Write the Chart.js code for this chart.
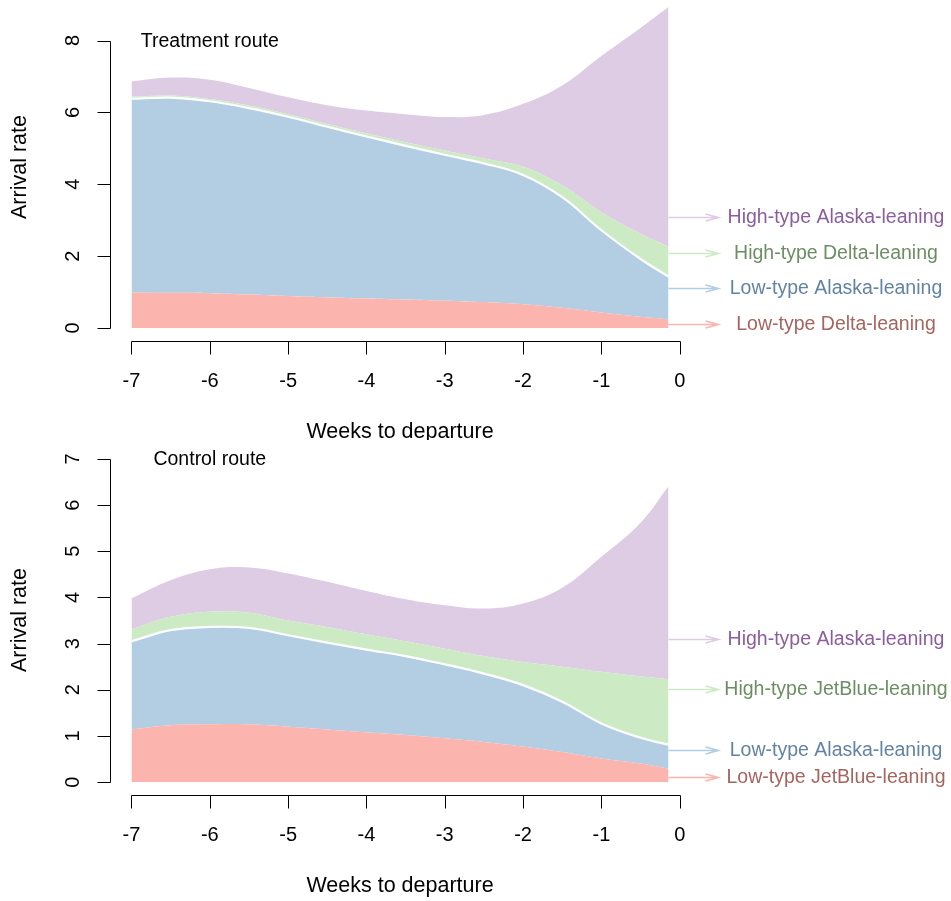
<!DOCTYPE html>
<html>
<head>
  <title>Arrival rates by consumer type</title>
  <script src="https://cdn.jsdelivr.net/npm/chart.js"></script>
  <style>
    body {
      margin: 0;
      background: #ffffff;
    }

    .wrap {
      position: relative;
      width: 951px;
      height: 901px;
    }

    .wrap canvas {
      position: absolute;
      left: 0;
    }

    #treatChart { top: 0; }
    #controlChart { top: 440px; }
  </style>
</head>
<body>

  <div class="wrap">
    <canvas id="treatChart" width="951" height="440"></canvas>
    <canvas id="controlChart" width="951" height="461"></canvas>
  </div>

  <script>
    // weeks to departure (last point is one day out)
    const weeks = [-7, -6.5, -6, -5.5, -5, -4.5, -4, -3.5, -3, -2.5, -2, -1.5, -1, -0.5, -1 / 7];
    const xTicks = [-7, -6, -5, -4, -3, -2, -1, 0];
    const treatYTicks = [0, 2, 4, 6, 8];
    const controlYTicks = [0, 1, 2, 3, 4, 5, 6, 7];

    // treatment route, stacked bottom to top
    const treatLowDelta   = [0.99, 0.98, 0.97, 0.93, 0.89, 0.85, 0.82, 0.79, 0.76, 0.72, 0.66, 0.56, 0.43, 0.31, 0.24];
    const treatLowAlaska  = [5.39, 5.43, 5.34, 5.19, 4.99, 4.75, 4.51, 4.28, 4.06, 3.86, 3.60, 3.08, 2.29, 1.61, 1.19];
    const treatHighDelta  = [0.06, 0.06, 0.06, 0.07, 0.07, 0.08, 0.09, 0.10, 0.12, 0.14, 0.23, 0.33, 0.50, 0.70, 0.83];
    const treatHighAlaska = [0.42, 0.50, 0.54, 0.49, 0.47, 0.52, 0.63, 0.78, 0.93, 1.21, 1.75, 2.78, 4.35, 5.73, 6.67];

    // control route
    const controlLowJetBlue  = [1.14, 1.23, 1.25, 1.25, 1.20, 1.14, 1.08, 1.02, 0.95, 0.87, 0.77, 0.65, 0.51, 0.40, 0.29];
    const controlLowAlaska   = [1.91, 2.06, 2.11, 2.09, 1.98, 1.88, 1.79, 1.71, 1.60, 1.48, 1.33, 1.09, 0.76, 0.56, 0.52];
    const controlHighJetBlue = [0.26, 0.29, 0.33, 0.33, 0.32, 0.34, 0.33, 0.32, 0.34, 0.38, 0.50, 0.76, 1.12, 1.33, 1.42];
    const controlHighAlaska  = [0.67, 0.79, 0.92, 0.98, 1.02, 0.98, 0.94, 0.91, 0.94, 1.03, 1.27, 1.71, 2.49, 3.33, 4.18];

    const treatNames = ['Low-type Delta-leaning', 'Low-type Alaska-leaning', 'High-type Delta-leaning', 'High-type Alaska-leaning'];
    const controlNames = ['Low-type JetBlue-leaning', 'Low-type Alaska-leaning', 'High-type JetBlue-leaning', 'High-type Alaska-leaning'];

    const fills = ['#FBB4AE', '#B3CDE3', '#CCEBC5', '#DECBE4'];
    const textCols = ['#A8645F', '#6283A3', '#6B8F63', '#8C5D9E'];
    const FAMILY = '"Liberation Sans", Arial, sans-serif';

    // R-style axes, titles and arrow labels
    const baseAxes = {
      id: 'baseAxes',
      afterDraw(chart, args, o) {
        const { ctx, chartArea: a, scales: { x, y } } = chart;
        ctx.save();
        ctx.strokeStyle = '#000';
        ctx.fillStyle = '#000';
        ctx.lineWidth = 1;
        ctx.font = '20px ' + FAMILY;
        ctx.textAlign = 'center';
        ctx.textBaseline = 'middle';

        // x axis
        const xb = Math.round(a.bottom) + 0.5;
        ctx.beginPath();
        ctx.moveTo(Math.round(x.getPixelForValue(xTicks[0])) + 0.5, xb);
        ctx.lineTo(Math.round(x.getPixelForValue(xTicks[xTicks.length - 1])) + 0.5, xb);
        xTicks.forEach(t => {
          const px = Math.round(x.getPixelForValue(t)) + 0.5;
          ctx.moveTo(px, xb);
          ctx.lineTo(px, xb + 13);
        });
        ctx.stroke();
        xTicks.forEach(t => ctx.fillText(String(t), x.getPixelForValue(t), xb + 40));

        // y axis
        const yl = Math.round(a.left) + 0.5;
        const yt = o.yTicks;
        ctx.beginPath();
        ctx.moveTo(yl, Math.round(y.getPixelForValue(yt[0])) + 0.5);
        ctx.lineTo(yl, Math.round(y.getPixelForValue(yt[yt.length - 1])) + 0.5);
        yt.forEach(t => {
          const py = Math.round(y.getPixelForValue(t)) + 0.5;
          ctx.moveTo(yl, py);
          ctx.lineTo(yl - 13, py);
        });
        ctx.stroke();
        yt.forEach(t => {
          ctx.save();
          ctx.translate(yl - 37, y.getPixelForValue(t));
          ctx.rotate(-Math.PI / 2);
          ctx.fillText(String(t), 0, 0);
          ctx.restore();
        });

        // axis titles
        ctx.font = '21.5px ' + FAMILY;
        ctx.fillText('Weeks to departure', (a.left + a.right) / 2, xb + 91);
        ctx.save();
        ctx.translate(20, o.labelMid);
        ctx.rotate(-Math.PI / 2);
        ctx.fillText('Arrival rate', 0, 0);
        ctx.restore();

        // panel title
        ctx.font = '19.5px ' + FAMILY;
        ctx.fillText(o.title, x.getPixelForValue(-6), y.getPixelForValue(yt[yt.length - 1]) + 1);

        // labels with arrows on the right
        const x0 = x.getPixelForValue(weeks[weeks.length - 1]);
        const x1 = x0 + 50;
        chart.data.datasets.forEach((ds, i) => {
          const py = Math.round(y.getPixelForValue(o.labelAt[i])) + 0.5;
          ctx.strokeStyle = fills[i];
          ctx.lineWidth = 1.5;
          ctx.beginPath();
          ctx.moveTo(x0, py);
          ctx.lineTo(x1, py);
          ctx.moveTo(x1 - 13, py - 3.5);
          ctx.lineTo(x1, py);
          ctx.lineTo(x1 - 13, py + 3.5);
          ctx.stroke();
          ctx.fillStyle = textCols[i];
          ctx.fillText(ds.label, 836, py);
        });
        ctx.restore();
      }
    };

    function layers(series, names) {
      return series.map((vals, i) => ({
        label: names[i],
        data: weeks.map((w, j) => ({ x: w, y: vals[j] })),
        backgroundColor: fills[i],
        borderColor: i === 1 ? '#ffffff' : 'rgba(0,0,0,0)',
        borderWidth: i === 1 ? 2.2 : 0,
        fill: i === 0 ? 'origin' : '-1',
        pointRadius: 0,
        tension: 0.4
      }));
    }

    function makeChart(id, series, names, yMin, yMax, padding, axisOpts) {
      return new Chart(document.getElementById(id), {
        type: 'line',
        data: { datasets: layers(series, names) },
        options: {
          responsive: false,
          animation: false,
          layout: { padding: padding },
          scales: {
            x: { type: 'linear', min: -7.2743, max: 0.1314, display: false },
            y: { stacked: true, min: yMin, max: yMax, display: false }
          },
          plugins: {
            legend: { display: false },
            tooltip: { enabled: false },
            baseAxes: axisOpts
          }
        },
        plugins: [baseAxes]
      });
    }

    makeChart('treatChart',
      [treatLowDelta, treatLowAlaska, treatHighDelta, treatHighAlaska], treatNames,
      -0.362, 9.1, { left: 110, right: 261, top: 1, bottom: 99 },
      { yTicks: treatYTicks, title: 'Treatment route', labelAt: [0.1, 1.1, 2.1, 3.1], labelMid: 167 });

    makeChart('controlChart',
      [controlLowJetBlue, controlLowAlaska, controlHighJetBlue, controlHighAlaska], controlNames,
      -0.28, 7.28, { left: 110, right: 261, top: 6, bottom: 106 },
      { yTicks: controlYTicks, title: 'Control route', labelAt: [0.1, 0.7, 2.01, 3.11], labelMid: 180 });
  </script>
</body>
</html>
